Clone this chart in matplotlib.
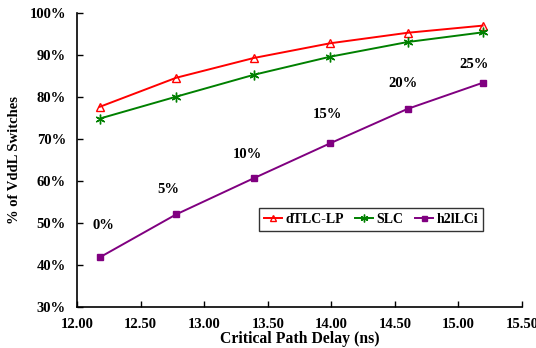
import matplotlib.pyplot as plt
from matplotlib.ticker import FuncFormatter

plt.rcParams['font.family'] = ['Liberation Serif', 'DejaVu Serif']
plt.rcParams['font.weight'] = 'bold'

delay = [12.18, 12.78, 13.39, 13.99, 14.60, 15.19]
dtlc_lp = [77.7, 84.6, 89.3, 92.8, 95.3, 97.0]
slc = [74.9, 80.1, 85.3, 89.6, 93.1, 95.4]
h2llci = [41.9, 52.1, 60.7, 69.0, 77.2, 83.4]

step_labels = ['0%', '5%', '10%', '15%', '20%', '25%']
label_x = [12.21, 12.72, 13.34, 13.97, 14.56, 15.12]
label_y = [49.4, 57.9, 66.3, 75.8, 83.2, 87.7]

fig = plt.figure(figsize=(5.36, 3.48), dpi=100)
ax = fig.add_axes([0.1437, 0.117, 0.8303, 0.8456])

ax.plot(delay, dtlc_lp, color='#ff0000', lw=1.4, marker='^', ms=6,
        mfc='none', mec='#ff0000', mew=1.0, label='dTLC-LP')
ax.plot(delay, slc, color='#008000', lw=1.4, marker=(6, 2, 0), ms=7,
        mec='#008000', mew=1.0, label='SLC')
ax.plot(delay, h2llci, color='#800080', lw=1.4, marker='s', ms=4.5,
        mfc='#800080', mec='#800080', label='h2lLCi')

for t, x, y in zip(step_labels, label_x, label_y):
    ax.text(x, y, t, ha='center', va='center', fontsize=10.5, fontweight='bold')

ax.set_xlim(12.0, 15.5)
ax.set_ylim(30, 100)
ax.set_xticks([12.0, 12.5, 13.0, 13.5, 14.0, 14.5, 15.0, 15.5])
ax.set_yticks(range(30, 101, 10))
ax.xaxis.set_major_formatter(FuncFormatter(lambda v, p: f'{v:.2f}'))
ax.yaxis.set_major_formatter(FuncFormatter(lambda v, p: f'{v:.0f}%'))
ax.tick_params(direction='in', length=4, width=1, labelsize=10.5)
ax.tick_params(axis='x', pad=8)
ax.tick_params(axis='y', pad=8)
for lbl in ax.get_xticklabels() + ax.get_yticklabels():
    lbl.set_fontweight('bold')

ax.spines['top'].set_visible(False)
ax.spines['right'].set_visible(False)
ax.spines['left'].set_linewidth(1.2)
ax.spines['bottom'].set_linewidth(1.2)

ax.set_xlabel('Critical Path Delay (ns)', fontsize=11.3, fontweight='bold', labelpad=0)
ax.set_ylabel('% of VddL Switches', fontsize=10.5, fontweight='bold', labelpad=6)

leg = ax.legend(ncol=3, loc='lower left', bbox_to_anchor=(0.409, 0.26),
                fontsize=10, frameon=True, fancybox=False, edgecolor='black',
                handlelength=1.3, handletextpad=0.25, columnspacing=0.8,
                borderpad=0.35, borderaxespad=0, markerscale=0.8)
leg.get_frame().set_linewidth(1.0)
for t in leg.get_texts():
    t.set_fontweight('bold')

fig.savefig('out.png', dpi=100)
